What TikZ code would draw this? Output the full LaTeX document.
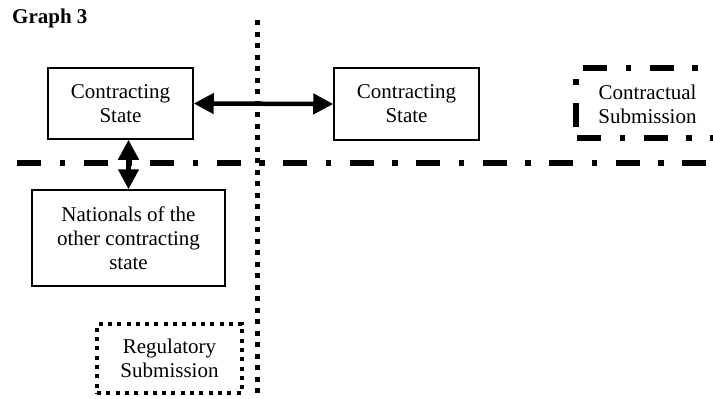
\documentclass[tikz,border=0pt]{standalone}
\usepackage{fontspec}
\setmainfont{Liberation Serif}
\usetikzlibrary{arrows.meta}
\begin{document}
\begin{tikzpicture}[x=1pt,y=-1pt,
  every node/.style={font=\fontsize{21}{24}\selectfont, align=center, inner sep=0pt},
  solidbox/.style={draw, line width=1.5pt},
  dblarrow/.style={line width=4.5pt, {Triangle[length=20pt,width=20pt]}-{Triangle[length=20pt,width=20pt]}},
  dotline/.style={line width=5pt, dash pattern=on 5pt off 6.5pt},
  dotbox/.style={draw, line width=4pt, dash pattern=on 4pt off 5.3pt},
  dashdotline/.style={line width=5.5pt, dash pattern=on 24pt off 18.5pt on 5.5pt off 18.5pt}
]
\useasboundingbox (0,0) rectangle (713,399);

\node[anchor=base west, font=\fontsize{21}{24}\selectfont\bfseries] (title) at (12,23) {Graph 3};

% boxes
\node[solidbox, minimum width=145pt, minimum height=71pt] (cs1) at (120.5,103.5) {Contracting\\State};
\node[solidbox, minimum width=145pt, minimum height=72pt] (cs2) at (406.5,104) {Contracting\\State};
\node[solidbox, minimum width=193pt, minimum height=96pt] (nat) at (128.5,238) {Nationals of the\\other contracting\\state};
\node[dotbox, minimum width=145pt, minimum height=69pt] (reg) at (169.5,358.5) {Regulatory\\Submission};
\node (csub) at (647.5,104.5) {Contractual\\Submission};

% contractual submission frame (clipped at the right edge)
\draw[dashdotline] (583,68) -- (713,68);
\draw[dashdotline] (577,138) -- (713,138);
\draw[dashdotline] (576,127) -- (576,66);

% dividing lines
\coordinate (vtop) at (257,20);
\coordinate (vbot) at (257,399);
\draw[dotline] (vtop) -- (vbot);
\coordinate (hl) at (17,163);
\coordinate (hr) at (713,163);
\draw[dashdotline] (hl) -- (hr);

% arrows
\draw[dblarrow] (cs1.east) -- (cs2.west);
\draw[dblarrow] (nat.north |- cs1.south) -- (nat.north);
\end{tikzpicture}
\end{document}
